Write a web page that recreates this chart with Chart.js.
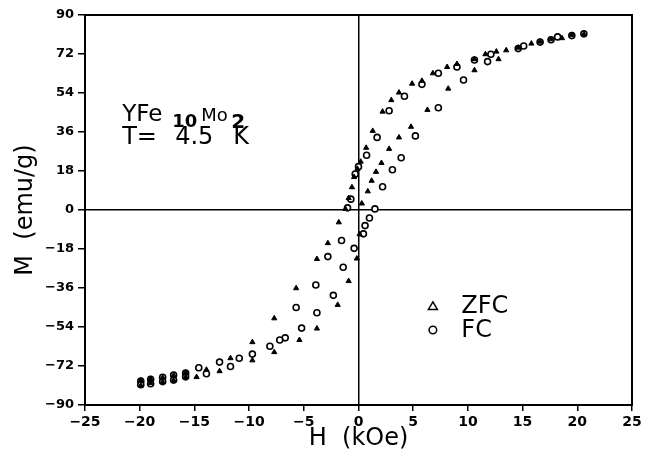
<!DOCTYPE html>
<html>
<head>
<meta charset="utf-8">
<script src="https://cdn.jsdelivr.net/npm/chart.js@4.4.0/dist/chart.umd.min.js"></script>
<style>
  html, body { margin: 0; padding: 0; background: #fff; }
  #chart { display: block; }
</style>
</head>
<body>
<canvas id="chart" width="652" height="453"></canvas>
<script>
// ZFC loop (triangles): field H in kOe, magnetization M in emu/g
const zfcH = [20.6, 19.5, 18.6, 17.6, 16.6, 15.8, 14.6, 13.5, 12.6, 11.6, 10.6, 9.0, 8.1, 6.8, 5.8, 4.9, 3.7, 3.0, 2.2, 1.3, 0.7,
  0.2, -0.1, -0.4, -0.6, -0.9, -1.2, -1.8, -2.8, -3.8, -5.7, -7.7, -9.7, -11.7, -13.9, -15.8, -16.9, -17.9, -19.0, -19.9,
  -19.9, -19.0, -17.9, -16.9, -15.8, -14.8, -12.7, -9.7, -7.7, -5.4, -3.8, -1.9, -0.9, -0.15, 0.1, 0.3,
  0.85, 1.2, 1.6, 2.1, 2.8, 3.7, 4.8, 6.3, 8.2, 10.6, 12.8];
const zfcM = [81.1, 80.8, 79.3, 78.8, 77.7, 76.8, 74.9, 73.7, 73.1, 71.9, 69.6, 67.4, 66.0, 63.1, 59.6, 58.3, 54.2, 50.7, 45.4, 36.5, 28.7,
  22.3, 19.0, 15.2, 10.5, 5.5, 0.5, -5.7, -15.3, -22.6, -36.1, -50.0, -61.0, -68.4, -73.7, -75.1, -76.4, -77.4, -77.9, -78.7,
  -81.0, -79.9, -79.4, -78.7, -77.1, -77.1, -74.4, -69.4, -65.6, -60.0, -54.7, -43.8, -32.8, -22.4, -11.2, 3.0,
  8.6, 13.5, 17.6, 21.7, 28.2, 33.5, 38.4, 46.2, 56.0, 64.5, 69.6];

// FC loop (circles)
const fcH = [20.6, 19.5, 18.2, 16.6, 15.1, 12.1, 10.6, 9.0, 7.3, 5.8, 4.2, 2.8, 1.7, 0.74, 0.0, -0.3, -0.7, -1.0,
  -1.55, -2.8, -3.9, -5.7, -6.7, -8.1, -10.9, -12.7, -14.6, -15.8, -16.9, -17.9, -19.0, -19.9,
  -19.9, -19.0, -17.9, -16.9, -15.8, -13.9, -11.7, -9.7, -7.2, -5.2, -3.8, -2.3, -1.4, -0.4, 0.45, 0.6, 1.0, 1.5,
  2.2, 3.1, 3.9, 5.2, 7.3, 9.6, 11.8, 14.6, 17.6];
const fcM = [81.3, 80.5, 79.9, 77.5, 75.7, 71.9, 69.2, 66.0, 63.1, 58.0, 52.5, 45.8, 33.5, 25.3, 20.0, 16.6, 5.0, 1.0,
  -14.1, -21.5, -34.6, -45.0, -59.0, -62.9, -68.4, -70.2, -72.8, -75.3, -76.2, -77.2, -78.1, -79.0,
  -80.6, -80.2, -79.2, -78.5, -77.0, -75.6, -72.2, -66.5, -60.0, -54.5, -47.4, -39.4, -26.4, -17.7, -11.0, -7.2, -3.7, 0.5,
  10.7, 18.6, 24.1, 34.2, 47.2, 60.0, 68.5, 74.5, 78.6];

const xTicks = [-25, -20, -15, -10, -5, 0, 5, 10, 15, 20, 25];
const yTicks = [-90, -72, -54, -36, -18, 0, 18, 36, 54, 72, 90];
const seriesNames = ["ZFC", "FC"];

const toPoints = (hs, ms) => hs.map((h, i) => ({ x: h, y: ms[i] }));
const fmtTick = (v) => (v < 0 ? "\u2212" + Math.abs(v) : String(v));
const zeroOnly = (c) => (c.tick && c.tick.value === 0 ? "#000" : "rgba(0,0,0,0)");

// box round the plot area
const frame = {
  id: "frame",
  afterDraw(chart) {
    const { ctx, chartArea: a } = chart;
    ctx.save();
    ctx.strokeStyle = "#000";
    ctx.lineWidth = 2;
    ctx.strokeRect(a.left, a.top, a.right - a.left, a.bottom - a.top);
    ctx.restore();
  }
};

// sample label and symbol key inside the plot
const notes = {
  id: "notes",
  afterDraw(chart) {
    const { ctx, scales: { x, y } } = chart;
    ctx.save();
    ctx.fillStyle = "#000";
    ctx.strokeStyle = "#000";
    ctx.textBaseline = "alphabetic";

    const left = x.getPixelForValue(-21.6);
    const line1 = y.getPixelForValue(41.3);
    const line2 = y.getPixelForValue(30.5);
    ctx.font = "23px 'DejaVu Sans'";
    ctx.fillText("YFe", left, line1);
    ctx.font = "bold 18px 'DejaVu Sans'";
    ctx.fillText("10", left + 50, line1 + 6);
    ctx.font = "18px 'DejaVu Sans'";
    ctx.fillText("Mo", left + 79, line1);
    ctx.font = "bold 20px 'DejaVu Sans'";
    ctx.fillText("2", left + 109, line1 + 7);
    ctx.font = "24px 'DejaVu Sans'";
    ctx.fillText("T=", left, line2);
    ctx.fillText("4.5", left + 53, line2);
    ctx.fillText("K", left + 111, line2);

    const kx = x.getPixelForValue(6.8);
    const tx = x.getPixelForValue(9.4);
    const ky1 = y.getPixelForValue(-44.3);
    const ky2 = y.getPixelForValue(-55.4);
    ctx.lineWidth = 1.5;
    ctx.beginPath();
    ctx.moveTo(kx, ky1 - 4);
    ctx.lineTo(kx + 4.5, ky1 + 3.5);
    ctx.lineTo(kx - 4.5, ky1 + 3.5);
    ctx.closePath();
    ctx.stroke();
    ctx.beginPath();
    ctx.arc(kx, ky2, 3.8, 0, Math.PI * 2);
    ctx.stroke();
    ctx.font = "24px 'DejaVu Sans'";
    ctx.textBaseline = "middle";
    ctx.fillText(seriesNames[0], tx, ky1 + 1);
    ctx.fillText(seriesNames[1], tx, ky2 + 1);
    ctx.restore();
  }
};

new Chart(document.getElementById("chart").getContext("2d"), {
  type: "scatter",
  data: {
    datasets: [
      {
        label: seriesNames[0],
        data: toPoints(zfcH, zfcM),
        pointStyle: "triangle",
        pointRadius: 3,
        backgroundColor: "#000",
        borderColor: "#000",
        borderWidth: 1
      },
      {
        label: seriesNames[1],
        data: toPoints(fcH, fcM),
        pointStyle: "circle",
        pointRadius: 3,
        backgroundColor: "#fff",
        borderColor: "#000",
        borderWidth: 1.6
      }
    ]
  },
  options: {
    responsive: false,
    animation: false,
    layout: { padding: { top: 15, right: 20, left: 0, bottom: 0 } },
    plugins: { legend: { display: false }, tooltip: { enabled: false } },
    scales: {
      x: {
        type: "linear",
        min: -25,
        max: 25,
        afterBuildTicks: (s) => { s.ticks = xTicks.map((v) => ({ value: v })); },
        afterFit: (s) => { s.height = 48; },
        ticks: { callback: fmtTick, color: "#000", padding: 3, maxRotation: 0, font: { family: "DejaVu Sans", size: 14, weight: "bold" } },
        grid: { color: zeroOnly, lineWidth: 1.5, tickColor: "#000", tickLength: 6, tickWidth: 1.5 },
        border: { color: "#000", width: 2 },
        title: { display: true, text: "H  (kOe)", color: "#000", padding: { top: 0, bottom: 0 }, font: { family: "DejaVu Sans", size: 24 } }
      },
      y: {
        type: "linear",
        min: -90,
        max: 90,
        afterBuildTicks: (s) => { s.ticks = yTicks.map((v) => ({ value: v })); },
        afterFit: (s) => { s.width = 85; },
        ticks: { callback: fmtTick, color: "#000", padding: 4, font: { family: "DejaVu Sans", size: 13, weight: "bold" } },
        grid: { color: zeroOnly, lineWidth: 1.5, tickColor: "#000", tickLength: 7, tickWidth: 1.5 },
        border: { color: "#000", width: 2 },
        title: { display: true, text: "M  (emu/g)", color: "#000", padding: { top: 11, bottom: 0 }, font: { family: "DejaVu Sans", size: 24 } }
      }
    }
  },
  plugins: [frame, notes]
});
</script>
</body>
</html>
